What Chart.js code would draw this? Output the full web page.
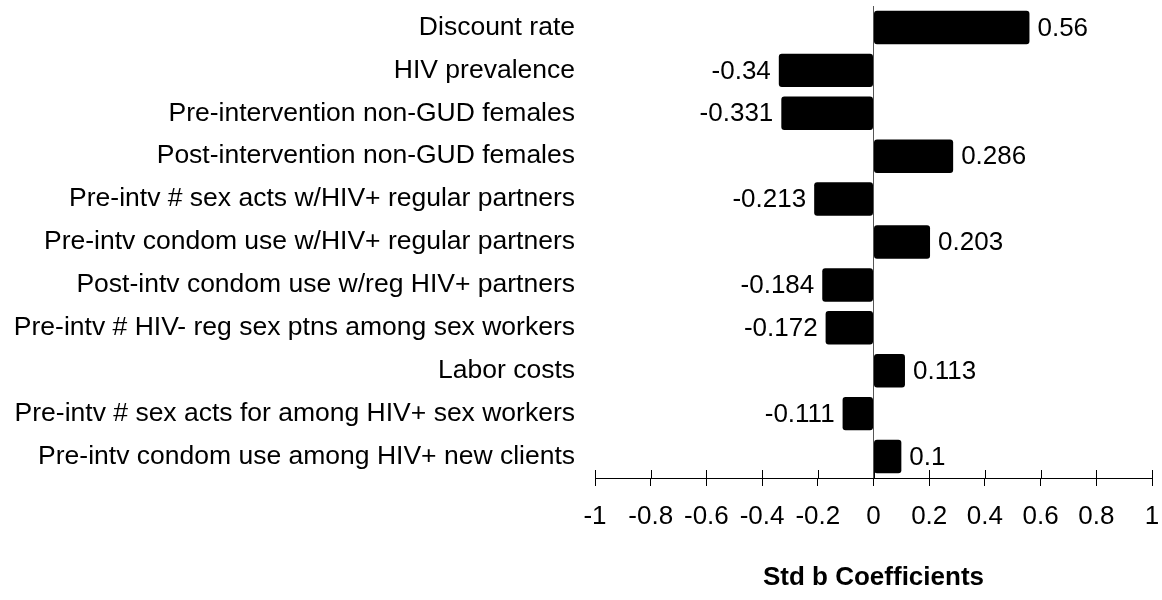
<!DOCTYPE html>
<html>
<head>
<meta charset="utf-8">
<script src="https://cdn.jsdelivr.net/npm/chart.js@4"></script>
<style>
  html, body { margin: 0; padding: 0; background: #fff; }
  #wrap { width: 1162px; height: 600px; }
</style>
</head>
<body>
<div id="wrap"><canvas id="c" width="1162" height="600"></canvas></div>
<script>
const categories = [
  "Discount rate",
  "HIV prevalence",
  "Pre-intervention non-GUD females",
  "Post-intervention non-GUD females",
  "Pre-intv # sex acts w/HIV+ regular partners",
  "Pre-intv condom use w/HIV+ regular partners",
  "Post-intv condom use w/reg HIV+ partners",
  "Pre-intv # HIV- reg sex ptns among sex workers",
  "Labor costs",
  "Pre-intv # sex acts for among HIV+ sex workers",
  "Pre-intv condom use among HIV+ new clients"
];
const coefficients = [0.56, -0.34, -0.331, 0.286, -0.213, 0.203, -0.184, -0.172, 0.113, -0.111, 0.1];
const valueLabels = ["0.56", "-0.34", "-0.331", "0.286", "-0.213", "0.203", "-0.184", "-0.172", "0.113", "-0.111", "0.1"];
const xTickLabels = ["-1", "-0.8", "-0.6", "-0.4", "-0.2", "0", "0.2", "0.4", "0.6", "0.8", "1"];
const axisTitle = "Std b Coefficients";

const FONT = "'Liberation Sans', Arial, sans-serif";

const valueLabelPlugin = {
  id: 'valueLabels',
  afterDatasetsDraw(chart) {
    const ctx = chart.ctx;
    const meta = chart.getDatasetMeta(0);
    ctx.save();
    ctx.font = "26px " + FONT;
    ctx.fillStyle = "#000";
    ctx.textBaseline = "middle";
    meta.data.forEach((bar, i) => {
      const v = coefficients[i];
      if (v >= 0) {
        ctx.textAlign = "left";
        ctx.fillText(valueLabels[i], bar.x + 8, bar.y + 1);
      } else {
        ctx.textAlign = "right";
        ctx.fillText(valueLabels[i], bar.x - 8, bar.y + 1);
      }
    });
    ctx.restore();
  }
};

const crossTickPlugin = {
  id: 'crossTicks',
  afterDraw(chart) {
    const xs = chart.scales.x;
    const ctx = chart.ctx;
    const y = chart.chartArea.bottom;
    ctx.save();
    ctx.strokeStyle = "#000";
    ctx.lineWidth = 1;
    xs.ticks.forEach(t => {
      const px = Math.round(xs.getPixelForValue(t.value)) + 0.5;
      ctx.beginPath();
      ctx.moveTo(px, y - 8);
      ctx.lineTo(px, y);
      ctx.stroke();
    });
    ctx.restore();
  }
};

new Chart(document.getElementById('c'), {
  type: 'bar',
  data: {
    labels: categories,
    datasets: [{
      data: coefficients,
      backgroundColor: '#000',
      borderColor: '#000',
      borderWidth: 0,
      borderRadius: 3,
      borderSkipped: false,
      categoryPercentage: 1.0,
      barPercentage: 0.78
    }]
  },
  options: {
    indexAxis: 'y',
    responsive: false,
    animation: false,
    devicePixelRatio: 1,
    layout: { padding: { top: 6, right: 0, left: 0, bottom: 0 } },
    plugins: { legend: { display: false }, tooltip: { enabled: false } },
    scales: {
      x: {
        min: -1, max: 1,
        afterBuildTicks(scale) {
          scale.ticks = xTickLabels.map(s => ({ value: parseFloat(s) }));
        },
        afterFit(scale) { scale.height = 122; scale.paddingRight = 10; scale.paddingLeft = 0; },
        ticks: {
          autoSkip: false,
          maxRotation: 0,
          padding: 15,
          color: '#000',
          font: { family: FONT, size: 26 },
          callback: (v, i) => xTickLabels[i]
        },
        grid: {
          drawOnChartArea: true,
          color: ctx => (ctx.tick && ctx.tick.value === 0) ? '#555' : 'rgba(0,0,0,0)',
          tickColor: '#000',
          tickLength: 8,
          lineWidth: 1
        },
        border: { display: true, color: '#000', width: 1 },
        title: {
          display: true,
          text: axisTitle,
          color: '#000',
          font: { family: FONT, size: 26, weight: 'bold' },
          padding: { top: 16, bottom: 7 }
        }
      },
      y: {
        afterFit(scale) { scale.width = 595; scale.paddingTop = 0; scale.paddingBottom = 0; },
        ticks: {
          padding: 12,
          color: '#000',
          font: { family: FONT, size: 26.5 },
          autoSkip: false
        },
        grid: { display: false },
        border: { display: false }
      }
    }
  },
  plugins: [valueLabelPlugin, crossTickPlugin]
});
</script>
</body>
</html>
